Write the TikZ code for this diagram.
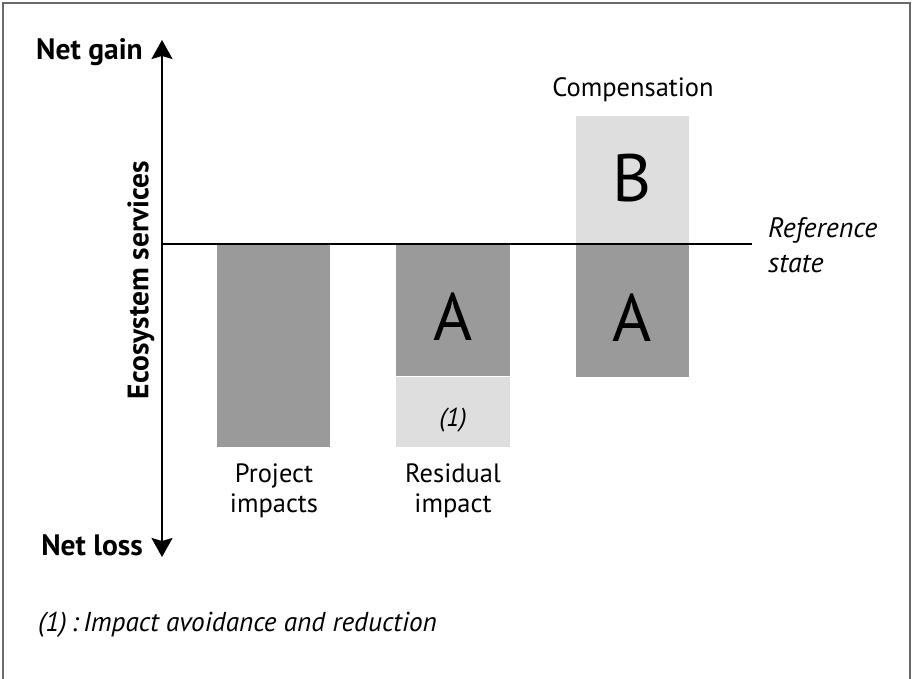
\documentclass[tikz,border=0pt]{standalone}
\usepackage{fontspec}
\setmainfont{PT Sans}
\usetikzlibrary{arrows.meta}
\definecolor{bardark}{HTML}{9A9A9A}
\definecolor{barlight}{HTML}{DEDEDE}
\definecolor{framegray}{HTML}{6A6A6A}
\tikzset{
  txt/.style={inner sep=0pt, font=\fontsize{26.5}{30}\selectfont},
  itxt/.style={txt, font=\fontsize{28}{32}\selectfont\itshape},
  notetxt/.style={txt, font=\fontsize{27.3}{32}\selectfont\itshape},
  btxt/.style={txt, font=\fontsize{29.5}{33}\selectfont\bfseries},
  bigletter/.style={inner sep=0pt, font=\fontsize{67}{70}\selectfont},
  darkbar/.style={fill=bardark, draw=none, inner sep=0pt, minimum width=113.5pt},
  lightbar/.style={fill=barlight, draw=none, inner sep=0pt, minimum width=113.5pt},
  axisline/.style={line width=2pt, {Stealth[length=19pt,width=21pt,inset=3pt]}-{Stealth[length=19pt,width=21pt,inset=3pt]}},
  refline/.style={line width=2pt}
}
\begin{document}
\begin{tikzpicture}[x=1pt,y=-1pt]
\useasboundingbox (0,0) rectangle (912,679);
\fill[white] (0,0) rectangle (912,679);
% frame
\draw[framegray, line width=1.6pt] (3,680) -- (3,3) -- (910,3) -- (910,680);

% bars
\node[darkbar, minimum height=202pt] (pbar) at (273.5,346) {};
\node[darkbar, minimum height=131pt] (rdark) at (453,310.5) {};
\node[lightbar, minimum height=70.5pt] (rlight) at (453,411.75) {};
\node[lightbar, minimum height=128pt] (clight) at (632.5,180) {};
\node[darkbar, minimum height=132pt] (cdark) at (632.5,310.5) {};

% axis and reference line
\coordinate (axtop) at (162,40);
\coordinate (axbot) at (162,557);
\coordinate (refstart) at (162,244);
\coordinate (refend) at (752,244);
\draw[axisline] (axbot) -- (axtop);
\draw[refline] (refstart) -- (refend);

% letters
\node[bigletter] (lA1) at (453,317) {A};
\node[bigletter] (lA2) at (632.5,318) {A};
\node[bigletter] (lB) at (632.5,178) {B};
\node[itxt, font=\fontsize{26}{30}\selectfont\itshape] (one) at (453,420) {(1)};

% labels
\node[btxt, anchor=base east] (gain) at (143,60) {Net gain};
\node[btxt, anchor=base east] (loss) at (143,555) {Net loss};
\node[btxt, rotate=90] (eco) at (141,280) {Ecosystem services};
\node[txt, anchor=base] (comp) at (633,97) {Compensation};
\node[txt, anchor=base] (proj1) at (274,482) {Project};
\node[txt, anchor=base] (proj2) at (274,512) {impacts};
\node[txt, anchor=base] (res1) at (453,482) {Residual};
\node[txt, anchor=base] (res2) at (453,512) {impact};
\node[itxt, anchor=base west] (ref1) at (768,237) {Reference};
\node[itxt, anchor=base west] (ref2) at (768,272) {state};
\node[notetxt, anchor=base west] (note) at (38,631) {(1)\,:\,Impact avoidance and reduction};
\end{tikzpicture}
\end{document}
